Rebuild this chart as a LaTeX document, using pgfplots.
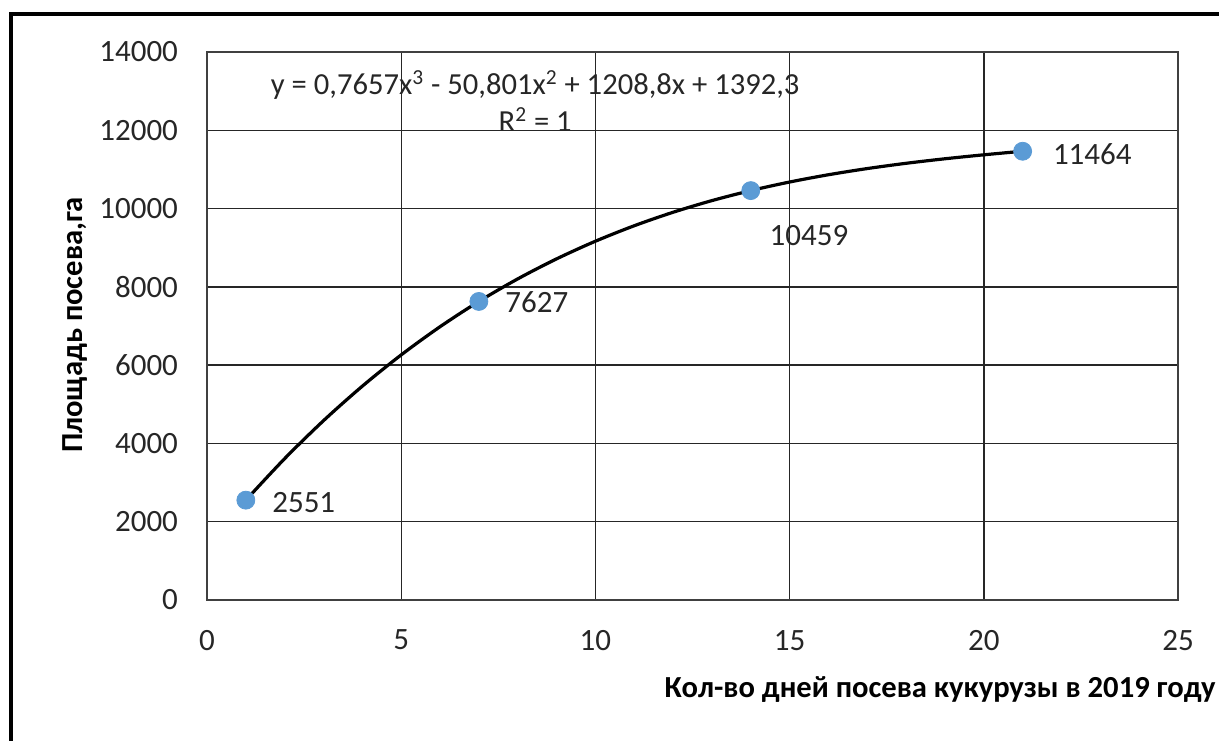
\documentclass[border=0pt]{standalone}
\usepackage{pgfplots}
\pgfplotsset{compat=1.18}
\usepackage{fontspec}
\setmainfont{Carlito}
\definecolor{ptblue}{HTML}{5B9BD5}
\begin{document}
\begin{tikzpicture}[x=1pt,y=1pt]
\path[use as bounding box] (0,0) rectangle (609.5,370);
\draw[line width=1.6pt,black] (5.5,-2) -- (5.5,363) -- (612,363);
\begin{axis}[
  at={(103.5pt,70pt)}, anchor=south west,
  scale only axis, width=485.5pt, height=274pt,
  xmin=0, xmax=25, ymin=0, ymax=14000,
  xtick={0,5,...,25}, ytick={0,2000,...,14000},
  scaled ticks=false,
  grid=major, major grid style={black!85, line width=0.7pt},
  axis line style={black!75, line width=0.7pt},
  major tick length=0pt,
  tick label style={font=\fontsize{15.5}{18}\selectfont, black!85},
  /pgf/number format/assume math mode=true,
  /pgf/number format/1000 sep={},
  yticklabel style={xshift=-11pt},
  xticklabel style={yshift=-11.5pt},
  xlabel={Кол-во дней посева кукурузы в 2019 году},
  ylabel={Площадь посева,га},
  xlabel style={font=\bfseries\fontsize{15.3}{18}\selectfont, at={(axis description cs:0.755,-0.164)}, anchor=center},
  ylabel style={font=\bfseries\fontsize{15.3}{18}\selectfont, at={(axis description cs:-0.136,0.502)}, anchor=center},
  clip=false,
]
\addplot[black, line width=1.6pt, smooth, no marks] coordinates {
(1,2551.06) (2,3612.82) (3,4582.17) (4,5463.69) (5,6261.99) (6,6981.66) (7,7627.29)
(8,8203.47) (9,8714.81) (10,9165.9) (11,9561.33) (12,9905.69) (13,10203.57) (14,10459.58)
(15,10678.34) (16,10864.35) (17,11022.29) (18,11156.74) (19,11272.26) (20,11373.5) (21,11465.01)
};
\addplot[only marks, mark=*, mark size=4.5pt, mark options={fill=ptblue, draw=ptblue}] coordinates {
(1,2551) (7,7627) (14,10459) (21,11464)
};
\node[font=\fontsize{15.5}{18}\selectfont, black!85, anchor=west] at (axis cs:1.5,2500) {2551};
\node[font=\fontsize{15.5}{18}\selectfont, black!85, anchor=west] at (axis cs:7.5,7600) {7627};
\node[font=\fontsize{15.5}{18}\selectfont, black!85] at (axis cs:15.5,9300) {10459};
\node[font=\fontsize{15.5}{18}\selectfont, black!85, anchor=west] at (axis cs:21.6,11400) {11464};
\node[font=\fontsize{15.3}{18}\selectfont, black!85] at (axis cs:8.45,13150) {y = 0,7657x\textsuperscript{3} - 50,801x\textsuperscript{2} + 1208,8x + 1392,3};
\node[font=\fontsize{15.3}{18}\selectfont, black!85] at (axis cs:8.45,12270) {R\textsuperscript{2} = 1};
\end{axis}
\end{tikzpicture}
\end{document}
